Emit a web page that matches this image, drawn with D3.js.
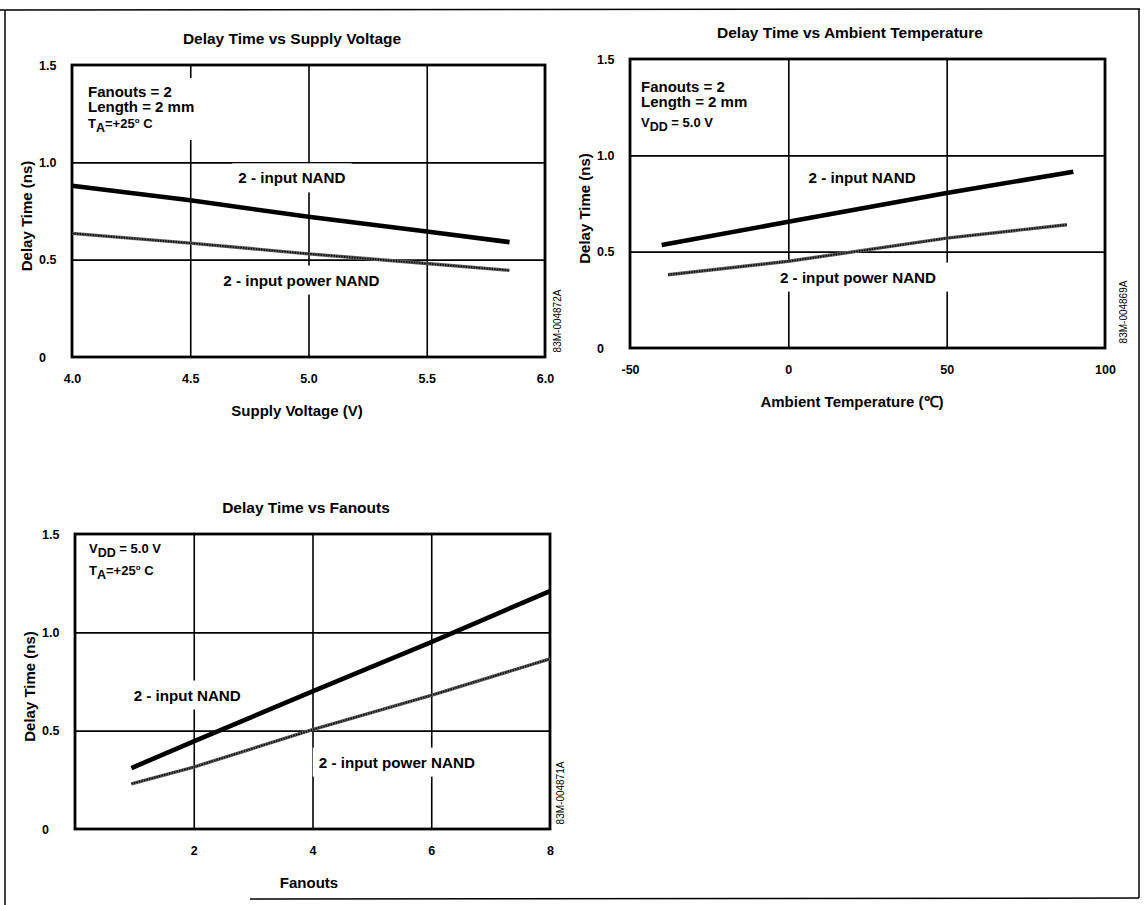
<!DOCTYPE html>
<html><head><meta charset="utf-8">
<script src="https://cdn.jsdelivr.net/npm/d3@7"></script>
<style>
body{margin:0;background:#fff;}
svg{display:block;font-family:"Liberation Sans",Arial,Helvetica,sans-serif;font-weight:bold;}
</style></head><body>
<svg id="c" width="1147" height="905"></svg>
<script>
// ---------- data ----------
const delayTicks = [0, 0.5, 1.0, 1.5];
const delayGrid = [0.5, 1.0];

const voltageTicks = [4.0, 4.5, 5.0, 5.5, 6.0];
const voltageGrid = [4.5, 5.0, 5.5];
const voltageX = [4.0, 4.5, 5.0, 5.5, 5.85];
const voltageNand = [0.88, 0.805, 0.72, 0.645, 0.59];
const voltagePowerNand = [0.635, 0.585, 0.53, 0.48, 0.445];

const tempTicks = [-50, 0, 50, 100];
const tempGrid = [0, 50];
const tempNandX = [-40, 0, 50, 90];
const tempNand = [0.535, 0.655, 0.805, 0.915];
const tempPowerX = [-38, 0, 50, 88];
const tempPowerNand = [0.38, 0.45, 0.57, 0.64];

const fanoutTicks = [2, 4, 6, 8];
const fanoutGrid = [2, 4, 6];
const fanoutX = [0.95, 2, 4, 6, 8];
const fanoutNand = [0.31, 0.445, 0.70, 0.95, 1.21];
const fanoutPowerNand = [0.23, 0.315, 0.505, 0.68, 0.865];

const seriesNames = ["2 - input NAND", "2 - input power NAND"];

// ---------- layout ----------
const svg = d3.select("#c");

// outer frame
svg.append("line").attr("x1",0).attr("x2",1140).attr("y1",10).attr("y2",9).attr("stroke","#000").attr("stroke-width",1.5);
svg.append("line").attr("x1",5).attr("x2",5).attr("y1",10).attr("y2",905).attr("stroke","#000").attr("stroke-width",1.5);
svg.append("line").attr("x1",1139).attr("x2",1139).attr("y1",9).attr("y2",898).attr("stroke","#000").attr("stroke-width",1.5);
svg.append("line").attr("x1",250).attr("x2",1139).attr("y1",899).attr("y2",898).attr("stroke","#000").attr("stroke-width",1.5);

const plainNum = f => (d => f(d).replace("\u2212", "-"));

const charts = [
  {
    title: "Delay Time vs Supply Voltage", xTitle: "Supply Voltage (V)", id: "83M-004872A",
    box: {l: 72, r: 545, t: 65, b: 357}, xDomain: [4, 6],
    xTicks: voltageTicks, xGrid: voltageGrid, fmt: plainNum(d3.format(".1f")),
    series: [{x: voltageX, y: voltageNand}, {x: voltageX, y: voltagePowerNand}],
    labels: [{x: 4.93, y: 0.92, pad: 6}, {x: 4.97, y: 0.395, pad: 6}],
    titleX: 292, xTitleX: 297, idDx: 16,
    note: [{t: "Fanouts = 2"}, {t: "Length = 2 mm"}, {t: "T", sub: "A", rest: "=+25", sup: "o", end: " C"}],
    noteDx: 16, noteDy: [32, 47, 63], noteBox: true
  },
  {
    title: "Delay Time vs Ambient Temperature", xTitle: "Ambient Temperature (\u2103)", id: "83M-004869A",
    box: {l: 630, r: 1105, t: 59, b: 348}, xDomain: [-50, 100],
    xTicks: tempTicks, xGrid: tempGrid, fmt: plainNum(d3.format("d")),
    series: [{x: tempNandX, y: tempNand}, {x: tempPowerX, y: tempPowerNand}],
    labels: [{x: 23.3, y: 0.887, pad: 6}, {x: 22, y: 0.368, pad: 20}],
    titleX: 850, xTitleX: 852, idDx: 22,
    note: [{t: "Fanouts = 2"}, {t: "Length = 2 mm"}, {t: "V", sub: "DD", rest: " = 5.0 V"}],
    noteDx: 11, noteDy: [33, 48, 68], noteBox: false
  },
  {
    title: "Delay Time vs Fanouts", xTitle: "Fanouts", id: "83M-004871A",
    box: {l: 75, r: 550, t: 534, b: 829}, xDomain: [0, 8],
    xTicks: fanoutTicks, xGrid: fanoutGrid, fmt: plainNum(d3.format("d")),
    series: [{x: fanoutX, y: fanoutNand}, {x: fanoutX, y: fanoutPowerNand}],
    labels: [{x: 1.89, y: 0.681, pad: 6}, {x: 5.42, y: 0.34, pad: 6}],
    titleX: 306, xTitleX: 309, idDx: 14,
    note: [{t: "V", sub: "DD", rest: " = 5.0 V"}, {t: "T", sub: "A", rest: "=+25", sup: "o", end: " C"}],
    noteDx: 14, noteDy: [19, 41], noteBox: false
  }
];

charts.forEach(c => {
  const {l, r, t, b} = c.box;
  const x = d3.scaleLinear().domain(c.xDomain).range([l, r]);
  const y = d3.scaleLinear().domain([0, 1.5]).range([b, t]);
  const g = svg.append("g");

  // title
  g.append("text").attr("x", c.titleX).attr("y", t - 21).attr("text-anchor", "middle")
    .attr("font-size", 15.5).text(c.title);

  // grid lines
  const vg = g.append("g").attr("transform", `translate(0,${b})`)
    .call(d3.axisBottom(x).tickValues(c.xGrid).tickSize(-(b - t)).tickFormat(""));
  vg.select(".domain").remove();
  vg.selectAll("line").attr("stroke", "#000").attr("stroke-width", 1.6);
  const hg = g.append("g").attr("transform", `translate(${l},0)`)
    .call(d3.axisLeft(y).tickValues(delayGrid).tickSize(-(r - l)).tickFormat(""));
  hg.select(".domain").remove();
  hg.selectAll("line").attr("stroke", "#000").attr("stroke-width", 1.6);

  // annotation
  const ng = g.append("g");
  c.note.forEach((n, i) => {
    const tx = ng.append("text").attr("x", l + c.noteDx).attr("y", t + c.noteDy[i]);
    if (n.sub) {
      tx.attr("font-size", 13);
      tx.append("tspan").text(n.t);
      tx.append("tspan").attr("dy", 4).attr("font-size", 12.5).text(n.sub);
      tx.append("tspan").attr("dy", -4).text(n.rest);
      if (n.sup) {
        tx.append("tspan").attr("dy", -5).attr("font-size", 8).text(n.sup);
        tx.append("tspan").attr("dy", 5).text(n.end);
      }
    } else {
      tx.attr("font-size", 15).text(n.t);
    }
  });
  if (c.noteBox) {
    const bb = ng.node().getBBox();
    ng.insert("rect", ":first-child").attr("x", bb.x - 4).attr("y", bb.y - 5)
      .attr("width", bb.width + 8).attr("height", bb.height + 10).attr("fill", "#fff");
  }

  // series labels with white backing
  c.labels.forEach((lb, i) => {
    const lg = g.append("g");
    lg.append("text").attr("x", x(lb.x)).attr("y", y(lb.y)).attr("dy", "0.36em")
      .attr("text-anchor", "middle").attr("font-size", 15.2).text(seriesNames[i]);
    const bb = lg.node().getBBox();
    lg.insert("rect", ":first-child").attr("x", bb.x - lb.pad).attr("y", bb.y - 6)
      .attr("width", bb.width + 2 * lb.pad).attr("height", bb.height + 12).attr("fill", "#fff");
  });

  // plot frame
  g.append("rect").attr("x", l).attr("y", t).attr("width", r - l).attr("height", b - t)
    .attr("fill", "none").attr("stroke", "#000").attr("stroke-width", 2.8);

  // series lines
  const line = d3.line().x(d => x(d[0])).y(d => y(d[1]));
  const nand = c.series[0].x.map((v, k) => [v, c.series[0].y[k]]);
  const pwr = c.series[1].x.map((v, k) => [v, c.series[1].y[k]]);
  g.append("path").attr("d", line(nand)).attr("fill", "none").attr("stroke", "#000")
    .attr("stroke-width", 4.6);
  g.append("path").attr("d", line(pwr)).attr("fill", "none").attr("stroke", "#5a5a5a")
    .attr("stroke-width", 3.4);
  g.append("path").attr("d", line(pwr)).attr("fill", "none").attr("stroke", "#000")
    .attr("stroke-width", 1.6).attr("stroke-dasharray", "1.3,1.3");

  // axes labels
  const ya = g.append("g").attr("transform", `translate(${l},0)`)
    .call(d3.axisLeft(y).tickValues(delayTicks).tickSize(0)
      .tickFormat(d => d === 0 ? "0" : d3.format(".1f")(d)));
  ya.select(".domain").remove();
  ya.selectAll("text").attr("x", -33).attr("text-anchor", "start")
    .attr("font-size", 12.5).attr("font-family", null).attr("fill", "#000");

  const xa = g.append("g").attr("transform", `translate(0,${b})`)
    .call(d3.axisBottom(x).tickValues(c.xTicks).tickSize(0).tickPadding(17).tickFormat(c.fmt));
  xa.select(".domain").remove();
  xa.selectAll("text").attr("font-size", 12.5).attr("font-family", null).attr("fill", "#000");

  // axis titles
  g.append("text").attr("x", c.xTitleX).attr("y", b + 59).attr("text-anchor", "middle")
    .attr("font-size", 15).text(c.xTitle);
  g.append("text").attr("transform", `translate(${l - 40},${(t + b) / 2 + 5}) rotate(-90)`)
    .attr("text-anchor", "middle").attr("font-size", 15).text("Delay Time (ns)");

  // figure id
  g.append("text").attr("transform", `translate(${r + c.idDx},${b - 36}) rotate(-90)`)
    .attr("text-anchor", "middle").attr("font-size", 10).attr("font-weight", "normal").text(c.id);
});
</script>
</body></html>
